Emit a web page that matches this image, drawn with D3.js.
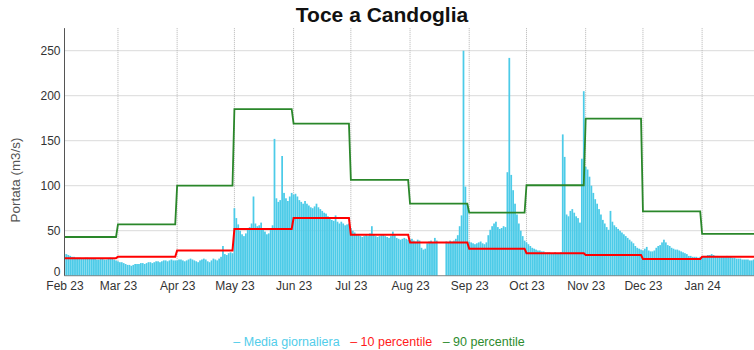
<!DOCTYPE html>
<html>
<head>
<meta charset="utf-8">
<script src="https://cdn.jsdelivr.net/npm/d3@7"></script>
<style>
  body { margin: 0; background: #fff; }
  svg { display: block; font-family: "Liberation Sans", Arial, sans-serif; }
</style>
</head>
<body>
<svg id="chart" width="754" height="350"></svg>
<script>
// Toce a Candoglia – daily mean discharge with monthly 10th / 90th percentiles
const chartTitle = "Toce a Candoglia";
const yAxisLabel = "Portata (m3/s)";
const monthStarts = ["2023-02-01","2023-03-01","2023-04-01","2023-05-01","2023-06-01","2023-07-01",
                     "2023-08-01","2023-09-01","2023-10-01","2023-11-01","2023-12-01","2024-01-01"];
const monthLabels = ["Feb 23","Mar 23","Apr 23","May 23","Jun 23","Jul 23",
                     "Aug 23","Sep 23","Oct 23","Nov 23","Dec 23","Jan 24"];
const yTickValues = [0, 50, 100, 150, 200, 250];

// daily mean discharge (m3/s), one array per month
const meanFeb = [24,24,23,22,21,21,20,20,20,19,19,20,20,19,19,19,19,18,18,19,19,18,18,19,20,19,18,17];
const meanMar = [16,15,15,14,13,12,12,11,12,13,13,13,14,14,13,14,15,15,14,15,16,16,15,16,17,17,16,17,18,17,17];
const meanApr = [17,18,18,17,16,17,18,19,18,17,16,15,17,18,19,18,16,15,17,19,18,17,19,21,33,24,23,25,26,25];
const meanMay = [75,64,57,50,46,44,47,51,54,58,88,58,55,56,59,53,49,46,47,51,56,152,86,82,84,133,92,86,83,88,92];
const meanJun = [90,91,88,84,82,80,83,80,78,76,75,77,80,76,74,72,70,69,66,63,62,61,67,60,58,60,58,56,57,58];
const meanJul = [53,50,48,46,45,44,43,44,45,44,47,55,46,44,43,44,45,46,44,43,42,44,49,45,42,41,40,41,42,41,40];
const meanAug = [40,41,39,38,40,39,31,29,30,36,38,39,37,42,39,null,null,null,null,38,37,39,38,39,41,45,55,67,250,99,80];
const meanSep = [38,37,36,35,36,37,38,36,35,37,45,51,55,58,60,54,52,53,55,54,115,242,112,95,80,68,58,50,44,39];
const meanOct = [37,35,33,31,30,29,28,28,27,27,26,26,26,25,25,26,25,25,26,157,132,68,66,72,74,70,66,64,59,130,205];
const meanNov = [121,118,110,100,92,85,80,74,68,62,58,54,51,72,60,56,54,52,50,48,46,44,42,40,38,36,33,31,30,29];
const meanDec = [28,30,32,28,27,27,28,31,33,34,37,40,37,34,33,31,30,29,29,28,27,26,25,24,22,22,21,21,21,20,21];
const meanJan = [21,22,22,23,23,24,23,22,22,21,21,21,21,22,21,21,20,20,19,19,19,18,18,18,18,17,17,18,18,17,17];

// monthly percentiles (m3/s)
const p10Monthly = [19.5, 21, 28, 52, 64, 45.5, 37, 30, 25, 23, 18.5, 21];
const p90Monthly = [43, 57, 100, 185, 169, 106.5, 80, 70, 100.5, 174.5, 71.5, 46.5];

const legendItems = [
  { text: "\u2013 Media giornaliera", color: "#52cdea" },
  { text: "\u2013 10 percentile", color: "#ff1a1a" },
  { text: "\u2013 90 percentile", color: "#2e8b2e" }
];

// ---- build daily rows ----
const parse = d3.utcParse("%Y-%m-%d");
const monthlyMeans = [meanFeb, meanMar, meanApr, meanMay, meanJun, meanJul,
                      meanAug, meanSep, meanOct, meanNov, meanDec, meanJan];
const rows = [];
monthlyMeans.forEach((arr, m) => {
  const start = parse(monthStarts[m]);
  arr.forEach((v, i) => {
    rows.push({ date: d3.utcDay.offset(start, i), mean: v, p10: p10Monthly[m], p90: p90Monthly[m] });
  });
});

// ---- layout ----
const svg = d3.select("#chart");
const plot = { left: 64.5, right: 761.3, top: 28.2, bottom: 275.7 };

const x = d3.scaleUtc()
  .domain([parse("2023-02-01"), parse("2024-02-01")])
  .range([plot.left, plot.right]);
const y = d3.scaleLinear()
  .domain([0, 275])
  .range([plot.bottom, plot.top]);

svg.append("defs").append("clipPath").attr("id", "plotClip")
  .append("rect")
  .attr("x", plot.left).attr("y", plot.top - 2)
  .attr("width", plot.right - plot.left).attr("height", plot.bottom - plot.top + 2);

// grid
const grid = svg.append("g").attr("class", "grid");
grid.selectAll("line.h").data(yTickValues).join("line")
  .attr("class", "h")
  .attr("x1", plot.left).attr("x2", plot.right)
  .attr("y1", d => y(d)).attr("y2", d => y(d))
  .attr("stroke", "#b4b4b4").attr("stroke-width", 1).attr("stroke-dasharray", "1,1");
grid.selectAll("line.v").data(monthStarts.map(parse)).join("line")
  .attr("class", "v")
  .attr("x1", d => x(d)).attr("x2", d => x(d))
  .attr("y1", plot.top).attr("y2", plot.bottom)
  .attr("stroke", "#b4b4b4").attr("stroke-width", 1).attr("stroke-dasharray", "1,1");

const layer = svg.append("g").attr("clip-path", "url(#plotClip)");

// daily mean bars
const barW = 1.75;
layer.append("g").selectAll("rect")
  .data(rows.filter(r => r.mean != null))
  .join("rect")
  .attr("x", d => x(d.date) - barW / 2)
  .attr("width", barW)
  .attr("y", d => y(d.mean))
  .attr("height", d => y(0) - y(d.mean))
  .attr("fill", "#4ccbe8");

// percentile lines
const lineGen = key => d3.line().x(d => x(d.date)).y(d => y(d[key]));
layer.append("path").datum(rows)
  .attr("fill", "none").attr("stroke", "#ff0000").attr("stroke-width", 2)
  .attr("d", lineGen("p10"));
layer.append("path").datum(rows)
  .attr("fill", "none").attr("stroke", "#2a872a").attr("stroke-width", 1.8)
  .attr("d", lineGen("p90"));

// axis lines
svg.append("line")
  .attr("x1", plot.left).attr("x2", plot.left)
  .attr("y1", plot.top).attr("y2", plot.bottom)
  .attr("stroke", "#555").attr("stroke-width", 1);
svg.append("line")
  .attr("x1", plot.left).attr("x2", plot.right)
  .attr("y1", plot.bottom).attr("y2", plot.bottom)
  .attr("stroke", "#555").attr("stroke-width", 0.6);

// y axis labels (the zero label sits just above the first month label)
const yAxis = d3.axisLeft(y).tickValues(yTickValues).tickSize(0).tickPadding(4);
svg.append("g").attr("transform", `translate(${plot.left},0)`).call(yAxis)
  .call(g => g.select(".domain").remove())
  .call(g => g.selectAll("text").attr("font-size", 12).attr("fill", "#333")
    .attr("font-family", "'Liberation Sans', Arial, sans-serif"))
  .call(g => g.selectAll(".tick").filter(d => d === 0).select("text").attr("dy", "-0.05em"));

// x axis labels
const xAxis = d3.axisBottom(x)
  .tickValues(monthStarts.map(parse))
  .tickFormat((d, i) => monthLabels[i])
  .tickSize(0).tickPadding(6);
svg.append("g").attr("transform", `translate(0,${plot.bottom})`).call(xAxis)
  .call(g => g.select(".domain").remove())
  .call(g => g.selectAll("text").attr("font-size", 12).attr("fill", "#333")
    .attr("font-family", "'Liberation Sans', Arial, sans-serif"));

// y axis title
svg.append("text")
  .attr("transform", `translate(20,180) rotate(-90)`)
  .attr("text-anchor", "middle")
  .attr("font-size", 13.4).attr("fill", "#555")
  .text(yAxisLabel);

// chart title
svg.append("text")
  .attr("x", 382).attr("y", 22)
  .attr("text-anchor", "middle")
  .attr("font-size", 21).attr("font-weight", "bold").attr("fill", "#111")
  .text(chartTitle);

// legend
const legend = svg.append("text")
  .attr("x", 379).attr("y", 346)
  .attr("text-anchor", "middle")
  .attr("font-size", 12.5);
legendItems.forEach((item, i) => {
  legend.append("tspan")
    .attr("fill", item.color)
    .attr("dx", i === 0 ? 0 : 10.5)
    .text(item.text);
});
</script>
</body>
</html>
